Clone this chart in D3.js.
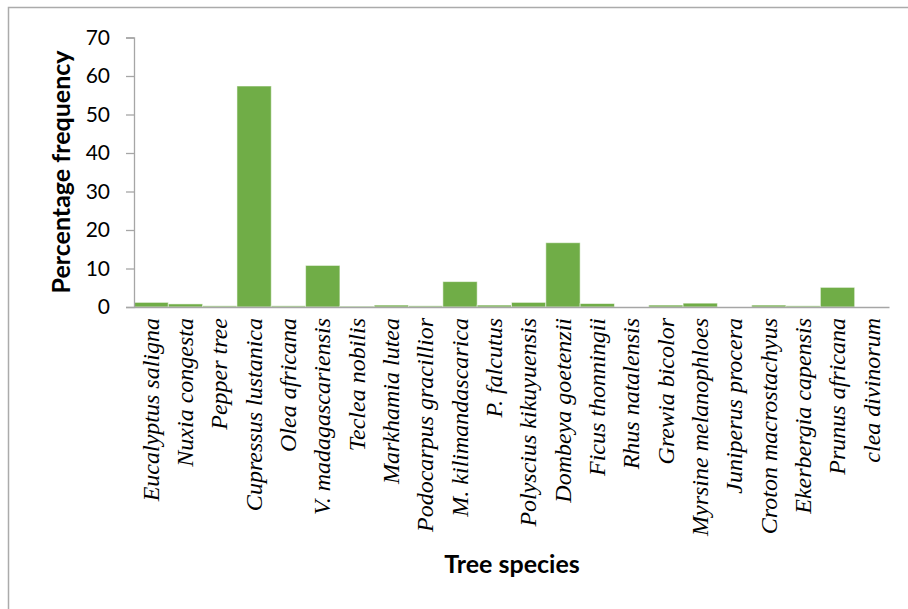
<!DOCTYPE html>
<html><head><meta charset="utf-8">
<script src="https://cdn.jsdelivr.net/npm/d3@7"></script>
<style>body{margin:0;background:#fff}svg{display:block}</style>
</head><body>
<script>
const categories = ["Eucalyptus saligna","Nuxia congesta","Pepper tree","Cupressus lustanica","Olea africana","V. madagascariensis","Teclea nobilis","Markhamia lutea","Podocarpus gracillior","M. kilimandascarica","P. falcutus","Polyscius kikuyuensis","Dombeya goetenzii","Ficus thonningii","Rhus natalensis","Grewia bicolor","Myrsine melanophloes","Juniperus procera","Croton macrostachyus","Ekerbergia capensis","Prunus africana","clea divinorum"];
const values = [1.2,0.8,0.3,57.4,0.3,10.8,0.2,0.5,0.3,6.6,0.5,1.2,16.7,0.9,0,0.5,1.0,0,0.5,0.3,5.1,0];
const yTicks = [0,10,20,30,40,50,60,70];

const W=908,H=609;
const svg=d3.select("body").append("svg").attr("width",W).attr("height",H);
// outer frame
svg.append("path").attr("d",`M8.5,${H} V7.5 H${W}`).attr("fill","none").attr("stroke","#ababab").attr("stroke-width",1.5);

const x=d3.scaleBand().domain(categories).range([134,889]).padding(0);
const y=d3.scaleLinear().domain([0,70]).range([307,37.5]);

svg.append("g").selectAll("rect").data(values).join("rect")
  .attr("x",(d,i)=>x(categories[i]))
  .attr("width",x.bandwidth())
  .attr("y",d=>y(d))
  .attr("height",d=>y(0)-y(d))
  .attr("fill","#70ad47")
  .attr("stroke","#ffffff").attr("stroke-opacity",0.55).attr("stroke-width",1);

// y axis
const ya=svg.append("g").attr("transform","translate(134,0)").call(d3.axisLeft(y).tickValues(yTicks).tickSize(8).tickPadding(16));
ya.select(".domain").attr("stroke","#a6a6a6").attr("stroke-width",1.3);
ya.selectAll(".tick line").attr("stroke","#a6a6a6").attr("stroke-width",1.3);
ya.selectAll(".tick text").attr("font-family","Lato, 'Open Sans', sans-serif").attr("font-size",21).attr("fill","#000");

// x axis
const xa=svg.append("g").attr("transform","translate(0,307)").call(d3.axisBottom(x).tickSize(0).tickSizeOuter(0).tickPadding(0));
xa.select(".domain").attr("stroke","#a6a6a6").attr("stroke-width",1.5);
xa.selectAll(".tick text")
  .attr("font-family","'Liberation Serif','Times New Roman',serif").attr("font-style","italic").attr("font-size",24).attr("fill","#000")
  .attr("transform","rotate(-90)").attr("text-anchor","end").attr("dy","0.32em").attr("x",-11).attr("y",0);

svg.append("text").attr("transform","translate(70,172) rotate(-90)").attr("text-anchor","middle")
  .attr("font-family","Lato, 'Open Sans', sans-serif").attr("font-weight","bold").attr("font-size",25).text("Percentage frequency");
svg.append("text").attr("x",512).attr("y",573).attr("text-anchor","middle")
  .attr("font-family","Lato, 'Open Sans', sans-serif").attr("font-weight","bold").attr("font-size",25).text("Tree species");
</script>
</body></html>
